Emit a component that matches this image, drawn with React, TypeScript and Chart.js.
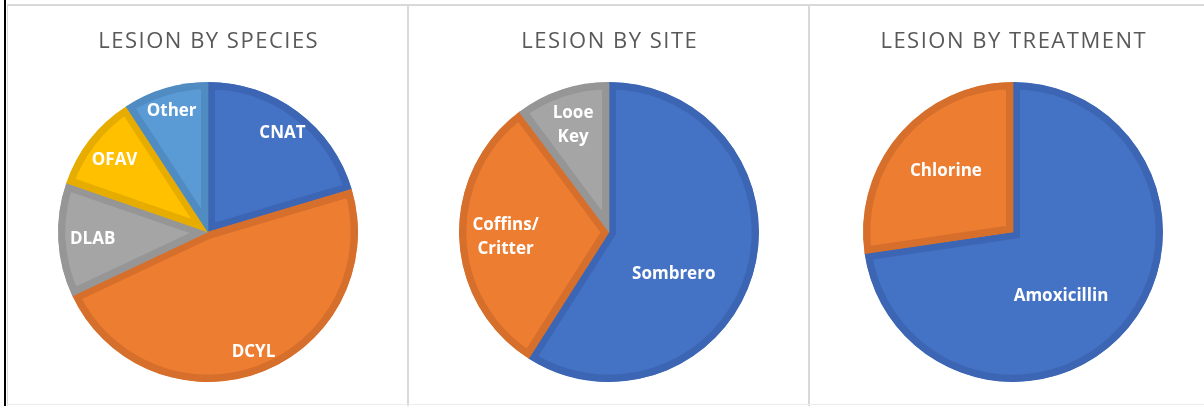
import React, { useEffect, useRef } from "react";
import { Chart, registerables } from "chart.js";

Chart.register(...registerables);

// ---- data ----
const speciesLabels = ["CNAT", "DCYL", "DLAB", "OFAV", "Other"];
const speciesValues = [20.4, 47.6, 12.3, 10.5, 9.2];

const siteLabels = ["Sombrero", ["Coffins/", "Critter"], ["Looe", "Key"]];
const siteValues = [59.0, 30.8, 10.2];

const treatmentLabels = ["Amoxicillin", "Chlorine"];
const treatmentValues = [72.7, 27.3];

const titles = ["LESION BY SPECIES", "LESION BY SITE", "LESION BY TREATMENT"];

// ---- styles ----
const speciesColors = ["#4472C4", "#ED7D31", "#A5A5A5", "#FFC000", "#5B9BD5"];
const speciesBorders = ["#3C66B3", "#D66F2B", "#969696", "#E6AD00", "#508CC2"];
const siteColors = ["#4472C4", "#ED7D31", "#A5A5A5"];
const siteBorders = ["#3C66B3", "#D66F2B", "#969696"];
const treatmentColors = ["#4472C4", "#ED7D31"];
const treatmentBorders = ["#3C66B3", "#D66F2B"];

// label placement: [fraction of radius, angle offset in degrees from slice middle]
const speciesPlacement = [[0.83, 0], [0.85, 0], [0.77, 0], [0.79, 0], [0.85, 0]];
const sitePlacement = [[0.51, 16], [0.69, 0], [0.76, 0]];
const treatmentPlacement = [[0.53, 12], [0.61, 2]];

const titlePlugin = {
  id: "panelTitle",
  afterDraw(chart: any, _args: any, opts: any) {
    const ctx = chart.ctx;
    ctx.save();
    ctx.font = '22px "Open Sans"';
    try {
      (ctx as any).letterSpacing = "1.5px";
    } catch (e) {}
    ctx.fillStyle = "#595959";
    ctx.textAlign = "center";
    ctx.textBaseline = "alphabetic";
    ctx.fillText(opts.text, chart.width / 2 + 0.75, 42);
    ctx.restore();
  },
};

const sliceLabelPlugin = {
  id: "sliceLabels",
  afterDatasetsDraw(chart: any, _args: any, opts: any) {
    const meta = chart.getDatasetMeta(0);
    const ctx = chart.ctx;
    ctx.save();
    ctx.font = 'bold 17px "Open Sans"';
    ctx.fillStyle = "#FFFFFF";
    ctx.textAlign = "center";
    ctx.textBaseline = "alphabetic";
    meta.data.forEach((arc: any, i: number) => {
      const p = arc.getProps(["x", "y", "startAngle", "endAngle", "outerRadius"], true);
      const place = opts.placement[i] || [0.7, 0];
      const a = (p.startAngle + p.endAngle) / 2 + (place[1] * Math.PI) / 180;
      const r = p.outerRadius * place[0];
      const lx = p.x + Math.cos(a) * r;
      const ly = p.y + Math.sin(a) * r;
      const lbl = chart.data.labels[i];
      const lines = Array.isArray(lbl) ? lbl : [lbl];
      const lh = 24.5;
      lines.forEach((ln: string, k: number) => {
        const yy = ly + (k - (lines.length - 1) / 2) * lh + 6;
        ctx.fillText(ln, lx, yy);
      });
    });
    ctx.restore();
  },
};

type PieProps = {
  labels: any[];
  values: number[];
  colors: string[];
  borders: string[];
  placement: number[][];
  title: string;
  left: number;
};

function PiePanel(props: PieProps) {
  const ref = useRef<HTMLCanvasElement | null>(null);
  useEffect(() => {
    if (!ref.current) return;
    const chart = new Chart(ref.current, {
      type: "pie",
      data: {
        labels: props.labels,
        datasets: [
          {
            data: props.values,
            backgroundColor: props.colors,
            borderColor: props.borders,
            borderWidth: 7,
            borderAlign: "inner",
            borderJoinStyle: "miter",
          } as any,
        ],
      },
      options: {
        animation: false,
        responsive: false,
        events: [],
        rotation: 0,
        layout: { padding: { top: 76, bottom: 22, left: 0, right: 0 } },
        plugins: {
          legend: { display: false },
          tooltip: { enabled: false },
          title: { display: false },
          panelTitle: { text: props.title },
          sliceLabels: { placement: props.placement },
        } as any,
      },
      plugins: [titlePlugin, sliceLabelPlugin],
    });
    return () => chart.destroy();
  }, []);
  return (
    <canvas
      ref={ref}
      width={398}
      height={398}
      style={{ position: "absolute", left: props.left, top: 6, width: 398, height: 398 }}
    />
  );
}

export default function App() {
  const gray = "#D9D9D9";
  return (
    <div
      style={{
        position: "fixed",
        left: 0,
        top: 0,
        width: 1204,
        height: 406,
        background: "#FFFFFF",
        overflow: "hidden",
      }}
    >
      <PiePanel
        labels={speciesLabels}
        values={speciesValues}
        colors={speciesColors}
        borders={speciesBorders}
        placement={speciesPlacement}
        title={titles[0]}
        left={9}
      />
      <PiePanel
        labels={siteLabels}
        values={siteValues}
        colors={siteColors}
        borders={siteBorders}
        placement={sitePlacement}
        title={titles[1]}
        left={410}
      />
      <PiePanel
        labels={treatmentLabels}
        values={treatmentValues}
        colors={treatmentColors}
        borders={treatmentBorders}
        placement={treatmentPlacement}
        title={titles[2]}
        left={814}
      />
      {/* frame lines */}
      <div style={{ position: "absolute", left: 4, top: 0, width: 2, height: 406, background: "#000000" }} />
      <div style={{ position: "absolute", left: 7, top: 4, width: 1197, height: 2, background: gray }} />
      <div style={{ position: "absolute", left: 7, top: 4, width: 1, height: 402, background: gray }} />
      <div style={{ position: "absolute", left: 407, top: 4, width: 2, height: 402, background: gray }} />
      <div style={{ position: "absolute", left: 808, top: 4, width: 2, height: 402, background: gray }} />
      <div style={{ position: "absolute", left: 7, top: 404, width: 1197, height: 1, background: "#EDEDED" }} />
    </div>
  );
}
